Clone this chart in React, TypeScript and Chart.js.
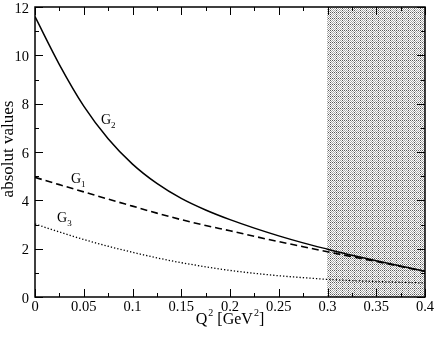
import React, { useEffect, useRef } from "react";
import { Chart, registerables } from "chart.js";

Chart.register(...registerables);

// Q^2 grid [GeV^2]
const qValues = [0, 0.025, 0.05, 0.075, 0.1, 0.125, 0.15, 0.175, 0.2, 0.225, 0.25, 0.275, 0.3, 0.325, 0.35, 0.375, 0.4];
// |G2| solid
const g2Values = [11.6, 9.62, 7.9, 6.55, 5.5, 4.7, 4.08, 3.6, 3.2, 2.85, 2.53, 2.24, 1.98, 1.73, 1.5, 1.28, 1.07];
// |G1| dashed
const g1Values = [4.95, 4.65, 4.35, 4.05, 3.76, 3.47, 3.2, 2.96, 2.74, 2.51, 2.29, 2.08, 1.87, 1.67, 1.47, 1.26, 1.06];
// |G3| dotted
const g3Values = [3.02, 2.69, 2.38, 2.1, 1.85, 1.62, 1.42, 1.25, 1.1, 0.98, 0.88, 0.8, 0.73, 0.68, 0.64, 0.61, 0.58];

// tick labels
const xTickValues = [0, 0.05, 0.1, 0.15, 0.2, 0.25, 0.3, 0.35, 0.4];
const xTickLabels = ["0", "0.05", "0.1", "0.15", "0.2", "0.25", "0.3", "0.35", "0.4"];
const yTickValues = [0, 2, 4, 6, 8, 10, 12];
const yTickLabels = ["0", "2", "4", "6", "8", "10", "12"];
const xMinorStep = 0.025;
const yMinorStep = 1;
const xRange = [0, 0.4];
const yRange = [0, 12];
const shadedRange = [0.3, 0.4];

// curve name labels: [main, subscript, q, value]
const curveLabels: [string, string, number, number][] = [
  ["G", "2", 0.0677, 7.16],
  ["G", "1", 0.0369, 4.72],
  ["G", "3", 0.0226, 3.1],
];

const SERIF = "'Liberation Serif', 'DejaVu Serif', serif";

function makePattern(ctx: CanvasRenderingContext2D) {
  const c = document.createElement("canvas");
  c.width = 6;
  c.height = 6;
  const p = c.getContext("2d")!;
  p.fillStyle = "#ffffff";
  p.fillRect(0, 0, 6, 6);
  for (let y = 0; y < 6; y++) {
    for (let x = 0; x < 6; x++) {
      if ((x + y) % 2 === 0) {
        p.fillStyle = x === 0 || y === 0 ? "#5a5a5a" : "#a8a8a8";
        p.fillRect(x, y, 1, 1);
      }
    }
  }
  return ctx.createPattern(c, "repeat");
}

const isMajor = (v: number, majors: number[]) => majors.some((m) => Math.abs(m - v) < 1e-9);

const decorPlugin = {
  id: "decor",
  beforeDatasetsDraw(chart: any) {
    const { ctx, chartArea, scales } = chart;
    const x0 = scales.x.getPixelForValue(shadedRange[0]);
    const x1 = scales.x.getPixelForValue(shadedRange[1]);
    ctx.save();
    const pat = makePattern(ctx);
    if (pat) ctx.fillStyle = pat;
    ctx.fillRect(Math.round(x0), chartArea.top, Math.round(x1) - Math.round(x0), chartArea.bottom - chartArea.top);
    ctx.restore();
  },
  afterDraw(chart: any) {
    const { ctx, chartArea, scales } = chart;
    const { left, right, top, bottom } = chartArea;
    ctx.save();
    ctx.strokeStyle = "#000";
    // ticks (inward, mirrored)
    ctx.lineWidth = 1;
    ctx.beginPath();
    const nx = Math.round((xRange[1] - xRange[0]) / xMinorStep);
    for (let i = 0; i <= nx; i++) {
      const v = xRange[0] + i * xMinorStep;
      const px = Math.round(scales.x.getPixelForValue(v)) + 0.5;
      const len = isMajor(v, xTickValues) ? 8 : 4;
      ctx.moveTo(px, bottom);
      ctx.lineTo(px, bottom - len);
      ctx.moveTo(px, top);
      ctx.lineTo(px, top + len);
    }
    const ny = Math.round((yRange[1] - yRange[0]) / yMinorStep);
    for (let i = 0; i <= ny; i++) {
      const v = yRange[0] + i * yMinorStep;
      const py = Math.round(scales.y.getPixelForValue(v)) + 0.5;
      const len = isMajor(v, yTickValues) ? 8 : 4;
      ctx.moveTo(left, py);
      ctx.lineTo(left + len, py);
      ctx.moveTo(right, py);
      ctx.lineTo(right - len, py);
    }
    ctx.stroke();
    // frame
    ctx.lineWidth = 1.5;
    ctx.strokeRect(left, top, right - left, bottom - top);

    ctx.fillStyle = "#000";
    ctx.textBaseline = "alphabetic";

    // tick labels
    ctx.font = `14.5px ${SERIF}`;
    ctx.textAlign = "center";
    xTickValues.forEach((v, i) => {
      ctx.fillText(xTickLabels[i], scales.x.getPixelForValue(v), bottom + 14);
    });
    ctx.textAlign = "right";
    yTickValues.forEach((v, i) => {
      ctx.fillText(yTickLabels[i], left - 6, scales.y.getPixelForValue(v) + 5.5);
    });

    // curve labels
    ctx.textAlign = "left";
    for (const [m, s, q, v] of curveLabels) {
      const px = scales.x.getPixelForValue(q);
      const py = scales.y.getPixelForValue(v);
      ctx.font = `14px ${SERIF}`;
      ctx.fillText(m, px, py);
      const w = ctx.measureText(m).width;
      ctx.font = `9px ${SERIF}`;
      ctx.fillText(s, px + w, py + 4);
    }

    // x title
    const parts: [string, boolean][] = [["Q", false], ["2", true], [" [GeV", false], ["2", true], ["]", false]];
    let total = 0;
    for (const [t, sup] of parts) {
      ctx.font = sup ? `10px ${SERIF}` : `16px ${SERIF}`;
      total += ctx.measureText(t).width + (sup ? 1 : 0);
    }
    let cx = (left + right) / 2 - total / 2;
    const by = 324;
    for (const [t, sup] of parts) {
      ctx.font = sup ? `10px ${SERIF}` : `16px ${SERIF}`;
      ctx.fillText(t, cx + (sup ? 1 : 0), sup ? by - 8 : by);
      cx += ctx.measureText(t).width + (sup ? 1 : 0);
    }

    // y title
    ctx.translate(13, (top + bottom) / 2 - 3);
    ctx.rotate(-Math.PI / 2);
    ctx.textAlign = "center";
    ctx.font = `17px ${SERIF}`;
    ctx.fillText("absolut values", 0, 0);
    ctx.restore();
  },
};

export default function App() {
  const ref = useRef<HTMLCanvasElement | null>(null);
  useEffect(() => {
    if (!ref.current) return;
    const mk = (vals: number[]) => qValues.map((q, i) => ({ x: q, y: vals[i] }));
    const chart = new Chart(ref.current, {
      type: "line",
      data: {
        datasets: [
          { label: "G2", data: mk(g2Values), borderColor: "#000", borderWidth: 1.5, pointRadius: 0, cubicInterpolationMode: "monotone", fill: false },
          { label: "G1", data: mk(g1Values), borderColor: "#000", borderWidth: 1.6, borderDash: [7, 4], pointRadius: 0, cubicInterpolationMode: "monotone", fill: false },
          { label: "G3", data: mk(g3Values), borderColor: "#000", borderWidth: 1.3, borderDash: [1.3, 2], pointRadius: 0, cubicInterpolationMode: "monotone", fill: false },
        ],
      },
      options: {
        animation: false,
        responsive: false,
        devicePixelRatio: 1,
        layout: { padding: { top: 7, right: 11, left: 35, bottom: 41 } },
        plugins: { legend: { display: false }, tooltip: { enabled: false } },
        scales: {
          x: { type: "linear", display: false, min: xRange[0], max: xRange[1] },
          y: { type: "linear", display: false, min: yRange[0], max: yRange[1] },
        },
      } as any,
      plugins: [decorPlugin],
    });
    return () => chart.destroy();
  }, []);
  return (
    <div style={{ position: "absolute", left: 0, top: 0, width: 436, height: 338, background: "#fff" }}>
      <canvas ref={ref} width={436} height={338} style={{ width: 436, height: 338, display: "block" }} />
    </div>
  );
}
